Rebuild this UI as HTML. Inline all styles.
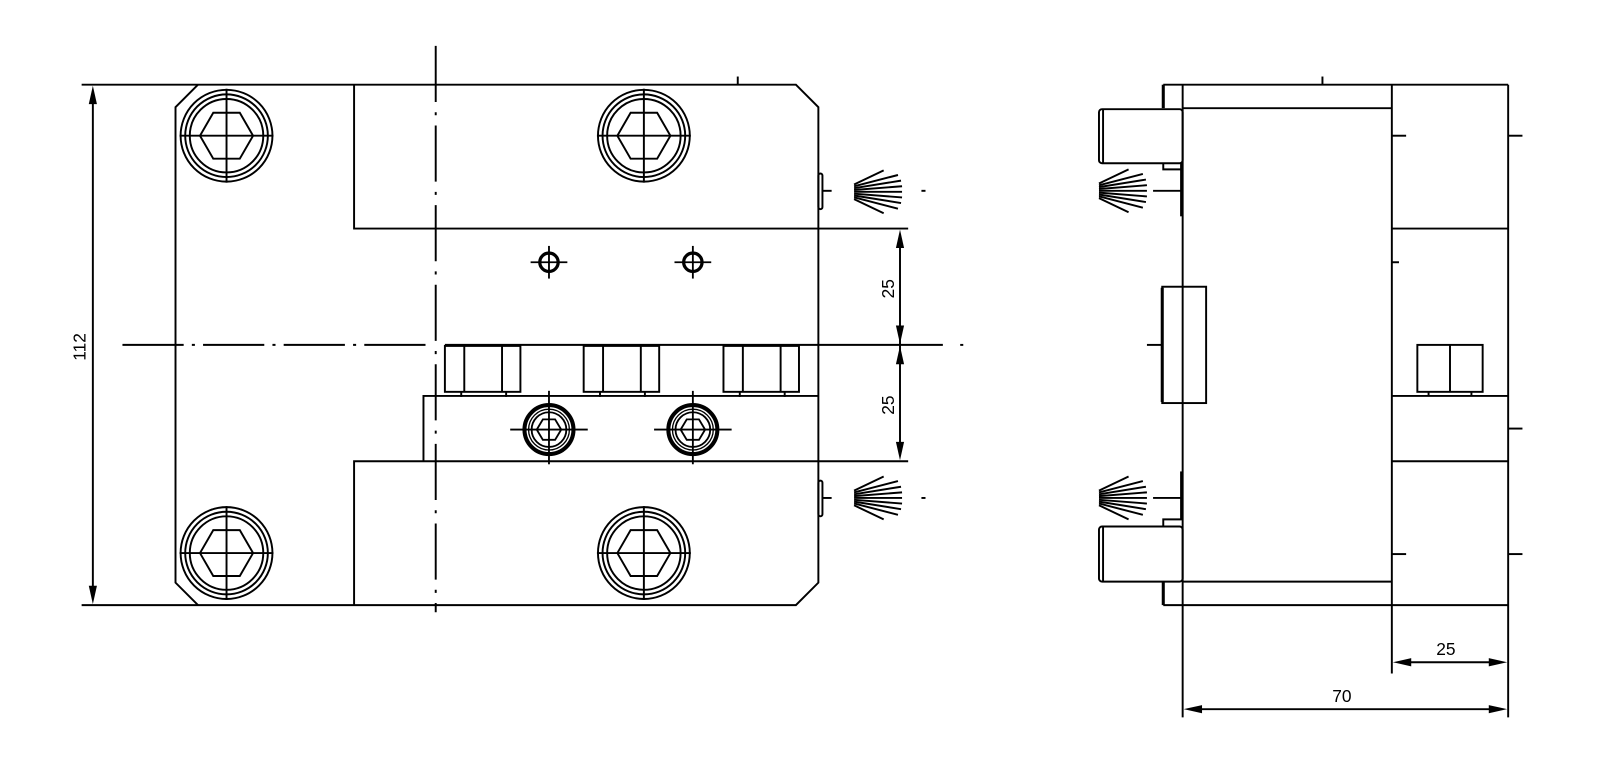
<!DOCTYPE html>
<html><head><meta charset="utf-8"><style>html,body{margin:0;padding:0;background:#fff}svg{display:block}</style></head>
<body>
<svg width="1600" height="780" viewBox="0 0 1568 764.4" preserveAspectRatio="none" xmlns="http://www.w3.org/2000/svg">
<defs>
<g id="bolt" fill="none" stroke="#000" stroke-width="1.9">
<circle r="45"/><circle r="40.5"/><circle r="36"/>
<polygon points="-26,0 -13,-22.5 13,-22.5 26,0 13,22.5 -13,22.5"/>
<line x1="-46" y1="0" x2="46" y2="0"/><line x1="0" y1="-46" x2="0" y2="46"/>
</g>
<g id="sbolt" fill="none" stroke="#000">
<circle r="24" stroke-width="4"/><circle r="20" stroke-width="1.3"/><circle r="17" stroke-width="1.8"/>
<polygon points="-12,0 -6,-10 6,-10 12,0 6,10 -6,10" stroke-width="1.8"/>
<line x1="-38" y1="0" x2="38" y2="0" stroke-width="1.8"/><line x1="0" y1="-38" x2="0" y2="34" stroke-width="1.8"/>
</g>
<g id="hole" fill="none" stroke="#000">
<circle r="9" stroke-width="3.2"/>
<line x1="-18" y1="0" x2="18" y2="0" stroke-width="1.8"/><line x1="0" y1="-16" x2="0" y2="16" stroke-width="1.8"/>
</g>
<g id="fan" stroke="#000" stroke-width="1.9">
<line x1="0" y1="0" x2="47" y2="0"/>
<line x1="0" y1="-1.8" x2="47" y2="-5.5"/><line x1="0" y1="1.8" x2="47" y2="5.5"/>
<line x1="0" y1="-3.6" x2="46" y2="-11"/><line x1="0" y1="3.6" x2="46" y2="11"/>
<line x1="0" y1="-5.4" x2="43" y2="-16.5"/><line x1="0" y1="5.4" x2="43" y2="16.5"/>
<line x1="0" y1="-7.2" x2="29" y2="-21"/><line x1="0" y1="7.2" x2="29" y2="21"/>
</g>
<g id="nut" fill="none" stroke="#000" stroke-width="1.9">
<rect x="0" y="0" width="74" height="45"/>
<line x1="19" y1="0" x2="19" y2="45"/><line x1="56" y1="0" x2="56" y2="45"/>
<line x1="16" y1="45" x2="16" y2="50"/><line x1="60" y1="45" x2="60" y2="50"/>
</g>
</defs>

<g fill="none" stroke="#000" stroke-width="1.9">
<path d="M80,83 H780 L802,105 V571 L780,593 H80"/>
<path d="M194,83 L172,105 V571 L194,593"/>
<path d="M347,83 V224 H890"/>
<path d="M347,593 V452 H890"/>
<path d="M415,452 V388 H802"/>
<line x1="436" y1="338" x2="924" y2="338"/>
<line x1="723" y1="75" x2="723" y2="83"/>
<line x1="120" y1="338" x2="425" y2="338" stroke-dasharray="60,8,3,8"/>
<line x1="941" y1="338" x2="944" y2="338"/>
<line x1="427" y1="45" x2="427" y2="600" stroke-dasharray="55,10,3,10"/>
<rect x="802" y="170" width="4" height="35" rx="2"/><line x1="806" y1="187" x2="815" y2="187"/>
<rect x="802" y="471" width="4" height="35" rx="2"/><line x1="806" y1="488" x2="815" y2="488"/>
<line x1="903" y1="187" x2="907" y2="187"/><line x1="903" y1="488" x2="907" y2="488"/>
<line x1="91" y1="90" x2="91" y2="586"/>
<line x1="882" y1="230" x2="882" y2="446"/>
<line x1="1140" y1="83" x2="1478" y2="83"/>
<line x1="1140" y1="593" x2="1478" y2="593"/>
<line x1="1159" y1="83" x2="1159" y2="703"/>
<line x1="1364" y1="83" x2="1364" y2="660"/>
<line x1="1478" y1="83" x2="1478" y2="703"/>
<line x1="1159" y1="106" x2="1364" y2="106"/>
<line x1="1159" y1="570" x2="1364" y2="570"/>
<line x1="1364" y1="224" x2="1478" y2="224"/>
<line x1="1364" y1="388" x2="1478" y2="388"/>
<line x1="1364" y1="452" x2="1478" y2="452"/>
<line x1="1296" y1="75" x2="1296" y2="83"/>
<path d="M1140,83 V106" stroke-width="3"/>
<path d="M1140,570 V593" stroke-width="3"/>
<rect x="1077" y="107" width="82" height="53" rx="3"/><line x1="1081" y1="107" x2="1081" y2="160"/>
<rect x="1077" y="516" width="82" height="54" rx="3"/><line x1="1081" y1="516" x2="1081" y2="570"/>
<path d="M1140,160 V166 H1159"/>
<path d="M1140,516 V509 H1159"/>
<line x1="1158" y1="160" x2="1158" y2="212" stroke-width="3"/>
<line x1="1158" y1="462" x2="1158" y2="509" stroke-width="3"/>
<line x1="1130" y1="187" x2="1158" y2="187"/>
<line x1="1130" y1="488" x2="1158" y2="488"/>
<rect x="1139" y="281" width="43" height="114"/>
<line x1="1139" y1="282" x2="1139" y2="394" stroke-width="3"/>
<line x1="1124" y1="338" x2="1139" y2="338"/>
<rect x="1389" y="338" width="64" height="46"/>
<line x1="1421" y1="338" x2="1421" y2="384"/>
<line x1="1400" y1="384" x2="1400" y2="388"/><line x1="1442" y1="384" x2="1442" y2="388"/>
<line x1="1364" y1="133" x2="1378" y2="133"/><line x1="1364" y1="257" x2="1371" y2="257"/><line x1="1364" y1="543" x2="1378" y2="543"/>
<line x1="1478" y1="133" x2="1492" y2="133"/><line x1="1478" y1="420" x2="1492" y2="420"/><line x1="1478" y1="543" x2="1492" y2="543"/>
<line x1="1371" y1="649" x2="1471" y2="649"/>
<line x1="1166" y1="695" x2="1471" y2="695"/>
</g>

<use href="#bolt" x="222" y="133"/><use href="#bolt" x="631" y="133"/>
<use href="#bolt" x="222" y="542"/><use href="#bolt" x="631" y="542"/>
<use href="#hole" x="538" y="257"/><use href="#hole" x="679" y="257"/>
<use href="#sbolt" x="538" y="421"/><use href="#sbolt" x="679" y="421"/>
<use href="#nut" x="436" y="339"/><use href="#nut" x="572" y="339"/><use href="#nut" x="709" y="339"/>
<use href="#fan" x="837" y="188"/><use href="#fan" x="837" y="488"/>
<use href="#fan" x="1077" y="187"/><use href="#fan" x="1077" y="488"/>

<g fill="#000">
<polygon points="91,84 87,102 95,102"/><polygon points="91,592 87,574 95,574"/>
<polygon points="882,225 878,243 886,243"/><polygon points="882,337 878,319 886,319"/>
<polygon points="882,339 878,357 886,357"/><polygon points="882,451 878,433 886,433"/>
<polygon points="1365,649 1383,645 1383,653"/><polygon points="1477,649 1459,645 1459,653"/>
<polygon points="1160,695 1178,691 1178,699"/><polygon points="1477,695 1459,691 1459,699"/>
</g>
<g font-family="Liberation Sans, sans-serif" font-size="17" fill="#000" text-anchor="middle">
<text transform="translate(84,340) rotate(-90)">112</text>
<text transform="translate(876,283) rotate(-90)">25</text>
<text transform="translate(876,397) rotate(-90)">25</text>
<text x="1417" y="642">25</text>
<text x="1315" y="688">70</text>
</g>
</svg>
</body></html>
